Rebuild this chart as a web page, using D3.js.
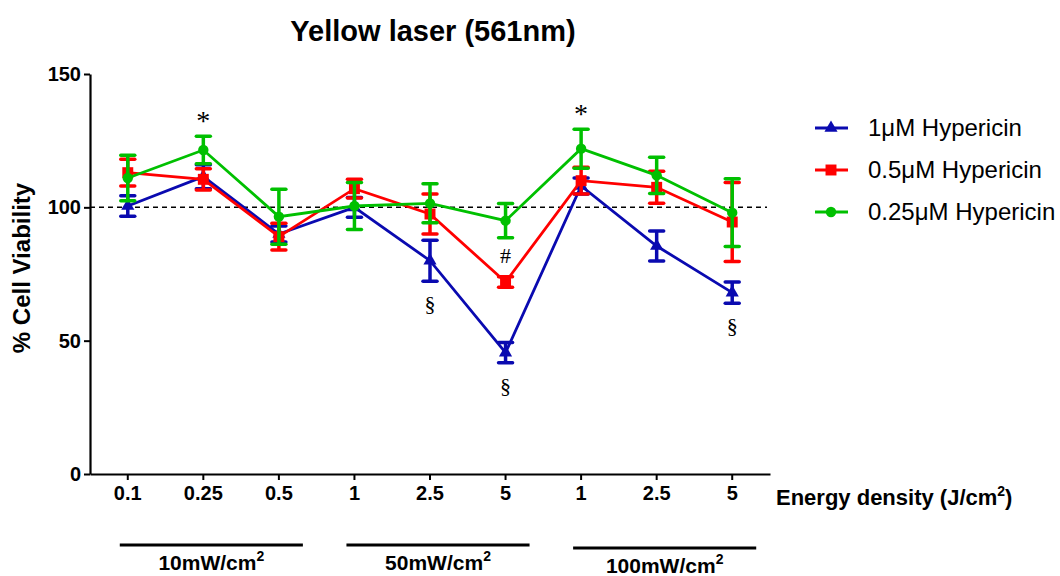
<!DOCTYPE html>
<html>
<head>
<meta charset="utf-8">
<script src="https://cdn.jsdelivr.net/npm/d3@7"></script>
<style>
  body { margin: 0; background: #fff; }
  svg { display: block; }
  .tick text { font-family: Arial, "Liberation Sans", sans-serif; font-weight: bold; }
</style>
</head>
<body>
<div id="chart"></div>
<script>
// data
const energyLabels = ["0.1", "0.25", "0.5", "1", "2.5", "5", "1", "2.5", "5"];
const groupLabels = ["10mW/cm", "50mW/cm", "100mW/cm"];
const groupFirst = [0, 3, 6];
const groupLast = [2, 5, 8];

const seriesNames = ["1μM Hypericin", "0.5μM Hypericin", "0.25μM Hypericin"];
const mean1 = [100.5, 111.5, 90, 100, 80, 45.5, 108, 85.5, 68];
const err1 = [3.8, 4.5, 3, 3.7, 7.7, 3.8, 3, 5.6, 4];
const mean05 = [113, 110.5, 89, 107, 97.5, 72, 110, 107.5, 94.5];
const err05 = [5, 4, 5, 3.5, 7.5, 2, 5, 6, 14.8];
const mean025 = [111, 121.5, 96.5, 100.5, 101.5, 95, 122, 112, 98];
const err025 = [8.5, 5.2, 10.3, 8.8, 7.3, 6.4, 7.3, 6.8, 12.7];

// annotation symbols: series index, point index, symbol, side
const annotations = [
  [2, 1, "*", "above"], [2, 6, "*", "above"],
  [1, 5, "#", "above"],
  [0, 4, "§", "below"], [0, 5, "§", "below"], [0, 8, "§", "below"]
];

const colors = ["#0a0ab0", "#ff0000", "#00c000"];
const shapes = [d3.symbolTriangle, d3.symbolSquare, d3.symbolCircle];
const shapeSizes = [75, 120, 85];
const means = [mean1, mean05, mean025];
const errs = [err1, err05, err025];

const W = 1060, H = 576;
const svg = d3.select("#chart").append("svg")
    .attr("width", W).attr("height", H);

const x = d3.scaleBand().domain(d3.range(energyLabels.length)).range([90, 770]);
const cx = i => x(i) + x.bandwidth() / 2;
const y = d3.scaleLinear().domain([0, 150]).range([474, 74]);

// axes
const yAxis = svg.append("g")
    .attr("transform", "translate(90,0)")
    .call(d3.axisLeft(y).tickValues([0, 50, 100, 150]).tickSize(6).tickSizeOuter(0).tickPadding(3));
const xAxis = svg.append("g")
    .attr("transform", "translate(0,474)")
    .call(d3.axisBottom(x).tickFormat(i => energyLabels[i]).tickSize(6).tickSizeOuter(0).tickPadding(6));
[xAxis, yAxis].forEach(g => {
  g.select(".domain").attr("stroke", "#000").attr("stroke-width", 2.2);
  g.selectAll(".tick line").attr("stroke", "#000").attr("stroke-width", 2);
  g.selectAll(".tick text").attr("fill", "#000").style("font-size", "20px");
});

// reference line at 100%
svg.append("line")
    .attr("x1", 90).attr("x2", 767)
    .attr("y1", y(100)).attr("y2", y(100))
    .attr("stroke", "#000").attr("stroke-width", 1.5)
    .attr("stroke-dasharray", "5,4");

// series
const line = d3.line().x((d, i) => cx(i)).y(d => y(d));
means.forEach((m, s) => {
  const g = svg.append("g");
  g.append("path")
      .attr("d", line(m))
      .attr("fill", "none")
      .attr("stroke", colors[s])
      .attr("stroke-width", 2.8);
  m.forEach((v, i) => {
    const e = errs[s][i];
    g.append("line")
        .attr("x1", cx(i)).attr("x2", cx(i))
        .attr("y1", y(v - e)).attr("y2", y(v + e))
        .attr("stroke", colors[s]).attr("stroke-width", 3.5);
    [v - e, v + e].forEach(c => {
      g.append("line")
          .attr("x1", cx(i) - 7).attr("x2", cx(i) + 7)
          .attr("y1", y(c)).attr("y2", y(c))
          .attr("stroke", colors[s]).attr("stroke-width", 3.5)
          .attr("stroke-linecap", "round");
    });
  });
  g.selectAll(".mark")
    .data(m)
    .join("path")
      .attr("transform", (d, i) => `translate(${cx(i)},${y(d)})`)
      .attr("d", d3.symbol(shapes[s], shapeSizes[s]))
      .attr("fill", colors[s]);
});

// significance marks
annotations.forEach(([s, i, sym, side]) => {
  const v = means[s][i], e = errs[s][i];
  const ty = side === "above" ? y(v + e) - (sym === "#" ? 14 : 6) : y(v - e) + 30;
  svg.append("text")
      .attr("x", cx(i)).attr("y", ty)
      .attr("text-anchor", "middle")
      .style("font-family", "'Liberation Serif', 'Times New Roman', serif")
      .style("font-size", sym === "*" ? "28px" : "22px")
      .text(sym);
});

// title and axis labels
svg.append("text")
    .attr("x", 433).attr("y", 41)
    .attr("text-anchor", "middle")
    .style("font-family", "Arial, 'Liberation Sans', sans-serif")
    .style("font-weight", "bold").style("font-size", "29px")
    .text("Yellow laser (561nm)");

svg.append("text")
    .attr("transform", "translate(30,268) rotate(-90)")
    .attr("text-anchor", "middle")
    .style("font-family", "Arial, 'Liberation Sans', sans-serif")
    .style("font-weight", "bold").style("font-size", "24px")
    .text("% Cell Viability");

const xt = svg.append("text")
    .attr("x", 776).attr("y", 505)
    .style("font-family", "Arial, 'Liberation Sans', sans-serif")
    .style("font-weight", "bold").style("font-size", "22px");
xt.append("tspan").text("Energy density (J/cm");
xt.append("tspan").attr("dy", -9).style("font-size", "14px").text("2");
xt.append("tspan").attr("dy", 9).text(")");

// power density groups
groupLabels.forEach((lab, k) => {
  const x1 = cx(groupFirst[k]) - 8, x2 = cx(groupLast[k]) + 24;
  const ly = k === 2 ? 548 : 545;
  svg.append("line")
      .attr("x1", x1).attr("x2", x2)
      .attr("y1", ly).attr("y2", ly)
      .attr("stroke", "#000").attr("stroke-width", 3);
  const t = svg.append("text")
      .attr("x", (x1 + x2) / 2).attr("y", ly + 25)
      .attr("text-anchor", "middle")
      .style("font-family", "Arial, 'Liberation Sans', sans-serif")
      .style("font-weight", "bold").style("font-size", "21px");
  t.append("tspan").text(lab);
  t.append("tspan").attr("dy", -9).style("font-size", "14px").text("2");
});

// legend
const legend = svg.append("g").attr("transform", "translate(815,128)");
seriesNames.forEach((name, s) => {
  const row = legend.append("g").attr("transform", `translate(0,${s * 42})`);
  row.append("line")
      .attr("x1", 0).attr("x2", 33)
      .attr("stroke", colors[s]).attr("stroke-width", 3);
  row.append("path")
      .attr("transform", "translate(16,0)")
      .attr("d", d3.symbol(shapes[s], shapeSizes[s]))
      .attr("fill", colors[s]);
  row.append("text")
      .attr("x", 53).attr("dy", "0.35em")
      .style("font-family", "Arial, 'Liberation Sans', sans-serif")
      .style("font-size", "24px")
      .text(name);
});
</script>
</body>
</html>
